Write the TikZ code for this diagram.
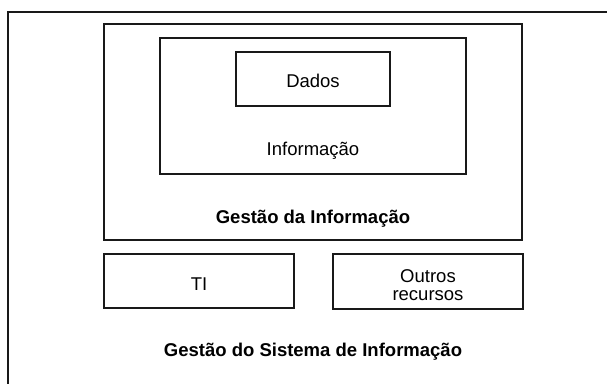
\documentclass[tikz,border=0pt]{standalone}
\usepackage{fontspec}
\setmainfont{Liberation Sans}
\usepackage{tikz}

\begin{document}
\begin{tikzpicture}[x=1pt, y=-1pt,
		caixa/.style={line width=1.5pt, color=black!90},
		rotulo/.style={inner sep=0pt, anchor=base, font=\fontsize{18.5}{18}\selectfont},
		titulo/.style={rotulo, font=\fontsize{18.5}{18}\selectfont\bfseries}]
		%%%%% START %%%%%
		
		\useasboundingbox (0, 0) rectangle (607, 383);
		\clip (0, 0) rectangle (607, 383);
		
		\draw[caixa] (8, 12) rectangle (630, 400);
		\node[titulo] (gsi) at (313, 356) {Gestão do Sistema de Informação};
		
		\draw[caixa] (104, 24) rectangle (522, 240);
		\node[titulo] (gi) at (313, 223) {Gestão da Informação};
		
		\draw[caixa] (160, 38) rectangle (466, 174);
		\node[rotulo] (info) at (313, 155) {Informação};
		
		\draw[caixa] (236, 52) rectangle (390, 106);
		\node[rotulo] (dados) at (313, 87) {Dados};
		
		\draw[caixa] (104, 254) rectangle (294, 308);
		\node[rotulo] (ti) at (199, 290) {TI};
		
		\draw[caixa] (333, 254) rectangle (523, 309);
		\node[rotulo, align=center] (outros) at (428, 300) {Outros\\recursos};
		
		%%%%% END %%%%%
	\end{tikzpicture}
\end{document}
